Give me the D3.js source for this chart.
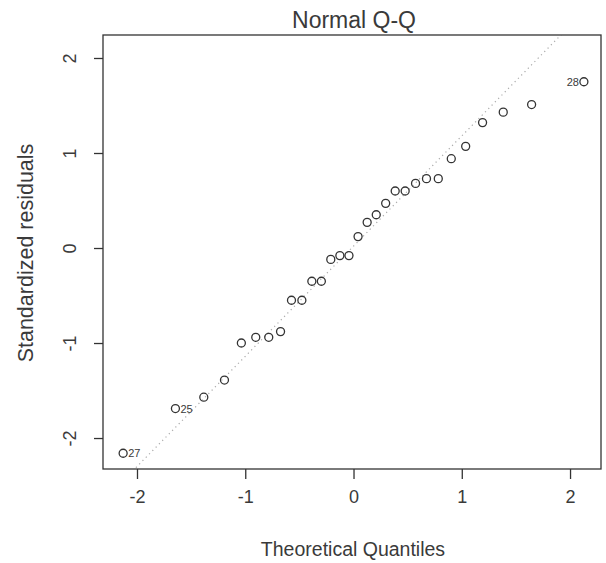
<!DOCTYPE html>
<html>
<head>
<meta charset="utf-8">
<script src="https://cdnjs.cloudflare.com/ajax/libs/d3/7.8.5/d3.min.js"></script>
<style>
  html, body { margin: 0; padding: 0; background: #ffffff; }
  svg { display: block; }
  text { font-family: "Liberation Sans", Arial, sans-serif; fill: #3a3a3a; }
</style>
</head>
<body>
<svg id="chart" width="606" height="563"></svg>
<script>
// Data
const theoreticalQuantiles = [-2.128,-1.645,-1.383,-1.192,-1.036,-0.903,-0.783,-0.674,-0.573,-0.477,
  -0.385,-0.297,-0.210,-0.126,-0.042,0.042,0.126,0.210,0.297,0.385,
  0.477,0.573,0.674,0.783,0.903,1.036,1.192,1.383,1.645,2.128];
const standardizedResiduals = [-2.16,-1.69,-1.57,-1.39,-1.00,-0.94,-0.94,-0.88,-0.55,-0.55,
  -0.35,-0.35,-0.12,-0.08,-0.08,0.12,0.27,0.35,0.47,0.60,
  0.60,0.68,0.73,0.73,0.94,1.07,1.32,1.43,1.51,1.75];
const labelIndex = [0, 1, 29];
const labelText = ["27", "25", "28"];
const xTicks = [-2, -1, 0, 1, 2];
const yTicks = [-2, -1, 0, 1, 2];
const qqLineCoef = [0.02, 1.16]; // intercept, slope
const titleText = "Normal Q-Q";
const xLabelText = "Theoretical Quantiles";
const yLabelText = "Standardized residuals";

const svg = d3.select("#chart");
const L = 103, R = 601, T = 35, B = 469;

const x = d3.scaleLinear().domain([-2.314, 2.286]).range([L, R]);
const y = d3.scaleLinear().domain([-2.326, 2.242]).range([B, T]);

svg.append("defs").append("clipPath").attr("id", "clip")
  .append("rect").attr("x", L).attr("y", T).attr("width", R - L).attr("height", B - T);

// QQ line (dotted)
const x0 = x.domain()[0], x1 = x.domain()[1];
svg.append("line")
  .attr("clip-path", "url(#clip)")
  .attr("x1", x(x0)).attr("y1", y(qqLineCoef[0] + qqLineCoef[1] * x0))
  .attr("x2", x(x1)).attr("y2", y(qqLineCoef[0] + qqLineCoef[1] * x1))
  .attr("stroke", "#aaaaaa").attr("stroke-width", 1.2)
  .attr("stroke-dasharray", "1.2,3.5");

// Points
const pts = theoreticalQuantiles.map((q, i) => ({ q, r: standardizedResiduals[i] }));
svg.append("g").selectAll("circle").data(pts).enter().append("circle")
  .attr("cx", d => x(d.q)).attr("cy", d => y(d.r)).attr("r", 4)
  .attr("fill", "none").attr("stroke", "#333").attr("stroke-width", 1.3);

// Point labels
labelIndex.forEach((idx, k) => {
  const d = pts[idx];
  const right = d.q < 0;
  svg.append("text")
    .attr("x", x(d.q) + (right ? 5 : -5))
    .attr("y", y(d.r) + 4)
    .attr("text-anchor", right ? "start" : "end")
    .attr("font-size", 11)
    .text(labelText[k]);
});

// Box
svg.append("rect").attr("x", L).attr("y", T).attr("width", R - L).attr("height", B - T)
  .attr("fill", "none").attr("stroke", "#333").attr("stroke-width", 1.3);

// X axis
const xAxis = d3.axisBottom(x).tickValues(xTicks).tickSize(10).tickSizeOuter(0).tickPadding(10).tickFormat(d3.format("d"));
const gx = svg.append("g").attr("transform", `translate(0,${B})`).call(xAxis);
gx.select(".domain").remove();
gx.selectAll(".tick line").attr("stroke", "#333").attr("stroke-width", 1.3);
gx.selectAll(".tick text").attr("font-size", 18).attr("fill", "#3a3a3a")
  .attr("font-family", "Liberation Sans, Arial, sans-serif").attr("dy", "0.75em")
  .text(d => d < 0 ? "-" + Math.abs(d) : d);

// Y axis
const yAxis = d3.axisLeft(y).tickValues(yTicks).tickSize(9).tickSizeOuter(0).tickPadding(0).tickFormat(d3.format("d"));
const gy = svg.append("g").attr("transform", `translate(${L},0)`).call(yAxis);
gy.select(".domain").remove();
gy.selectAll(".tick line").attr("stroke", "#333").attr("stroke-width", 1.3);
gy.selectAll(".tick text").remove();
gy.selectAll(".tick").append("text")
  .attr("transform", "translate(-27,0) rotate(-90)")
  .attr("text-anchor", "middle")
  .attr("font-size", 18).attr("fill", "#3a3a3a")
  .attr("font-family", "Liberation Sans, Arial, sans-serif")
  .text(d => d < 0 ? "-" + Math.abs(d) : d);

// Title
svg.append("text").attr("x", (L + R) / 2 + 2).attr("y", 28)
  .attr("text-anchor", "middle").attr("font-size", 23).text(titleText);

// Axis titles
svg.append("text").attr("x", (L + R) / 2 + 1).attr("y", 556)
  .attr("text-anchor", "middle").attr("font-size", 19.5).text(xLabelText);
svg.append("text").attr("transform", `translate(33,${(T + B) / 2 + 1}) rotate(-90)`)
  .attr("text-anchor", "middle").attr("font-size", 21.5).text(yLabelText);
</script>
</body>
</html>
